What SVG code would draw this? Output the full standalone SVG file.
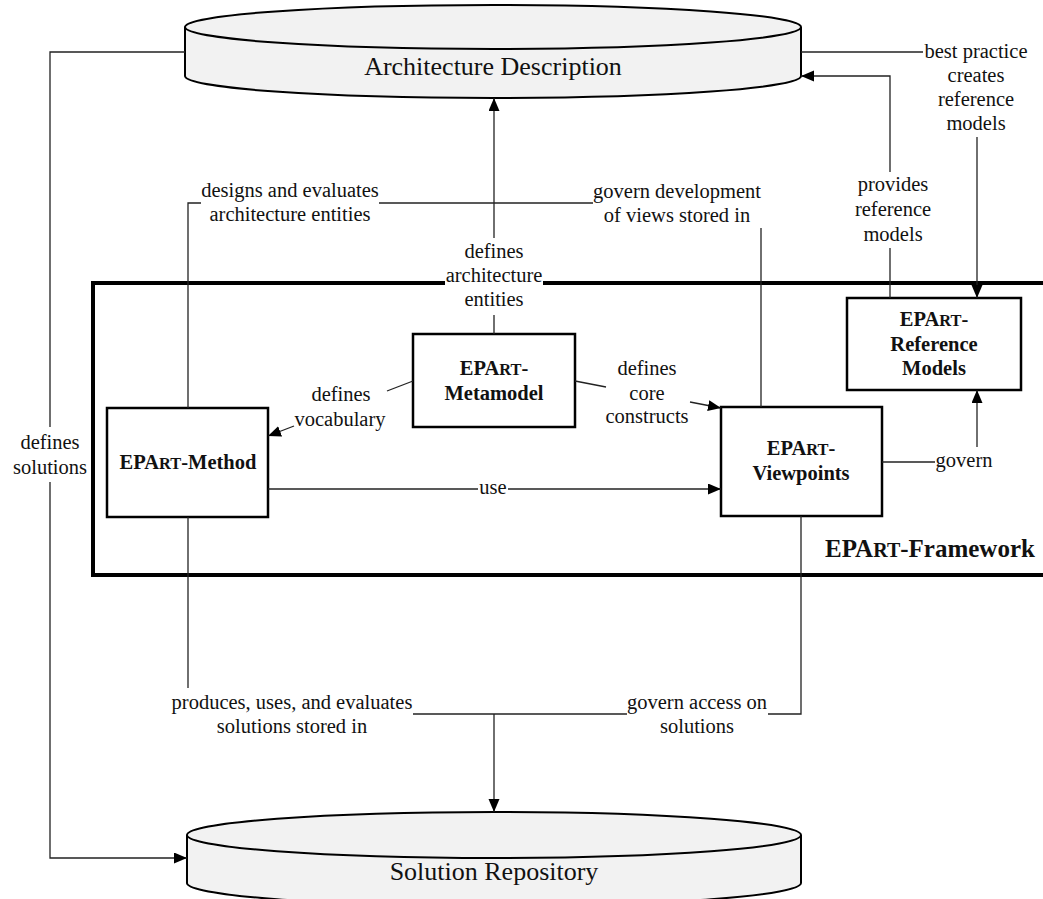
<svg xmlns="http://www.w3.org/2000/svg" width="1043" height="899" viewBox="0 0 1043 899">
  <defs>
    <marker id="arrow" markerUnits="userSpaceOnUse" markerWidth="14" markerHeight="12" refX="13" refY="5.5" orient="auto">
      <path d="M0,0 L13,5.5 L0,11 z" fill="#000"/>
    </marker>
    <style>
      .cyl { fill: #f2f2f2; stroke: #000; stroke-width: 2; }
      .cyl-rim { fill: none; stroke: #000; stroke-width: 2; }
      .box { fill: #fff; stroke: #000; stroke-width: 2.5; }
      .frame { fill: none; stroke: #000; stroke-width: 4; }
      .conn { fill: none; stroke: #222; stroke-width: 1.3; }
      .arr { marker-end: url(#arrow); }
      .store { font-family: "Liberation Serif", "Times New Roman", serif; font-size: 26px; fill: #111; text-anchor: middle; }
      .lbl { font-family: "Liberation Serif", "Times New Roman", serif; font-size: 20.5px; fill: #111; text-anchor: middle; }
      .node { font-family: "Liberation Serif", "Times New Roman", serif; font-size: 20.5px; font-weight: bold; fill: #111; text-anchor: middle; }
      .sc { font-size: 16.4px; }
      .fw { font-family: "Liberation Serif", "Times New Roman", serif; font-size: 25px; font-weight: bold; fill: #111; }
      .fw .sc { font-size: 20px; }
    </style>
  </defs>

  <!-- framework boundary (top edge left open around the label) -->
  <g id="framework">
    <path class="frame" d="M445,283 H93 V575 H1046 M543,283 H1046"/>
    <text class="fw" x="825" y="557">EPA<tspan class="sc">RT</tspan>-Framework</text>
  </g>

  <!-- stores -->
  <g id="architecture-description">
    <path class="cyl" d="M185,27 A308,22 0 0,1 801,27 V76 A308,22 0 0,1 185,76 Z"/>
    <path class="cyl-rim" d="M185,27 A308,22 0 0,0 801,27"/>
    <text class="store" x="493" y="75">Architecture Description</text>
  </g>

  <g id="solution-repository">
    <path class="cyl" d="M187,835 A307,23 0 0,1 801,835 V883 A307,23 0 0,1 187,883 Z"/>
    <path class="cyl-rim" d="M187,835 A307,23 0 0,0 801,835"/>
    <text class="store" x="494" y="880">Solution Repository</text>
  </g>

  <!-- framework parts -->
  <g id="epart-method">
    <rect class="box" x="107" y="408" width="161" height="109"/>
    <text class="node" x="188" y="469">EPA<tspan class="sc">RT</tspan>-Method</text>
  </g>

  <g id="epart-metamodel">
    <rect class="box" x="413" y="334" width="162" height="93"/>
    <text class="node" x="494" y="375">EPA<tspan class="sc">RT</tspan>-</text>
    <text class="node" x="494" y="400">Metamodel</text>
  </g>

  <g id="epart-viewpoints">
    <rect class="box" x="721" y="407" width="161" height="109"/>
    <text class="node" x="801" y="455">EPA<tspan class="sc">RT</tspan>-</text>
    <text class="node" x="801" y="480">Viewpoints</text>
  </g>

  <g id="epart-reference-models">
    <rect class="box" x="847" y="298" width="174" height="92"/>
    <text class="node" x="934" y="326">EPA<tspan class="sc">RT</tspan>-</text>
    <text class="node" x="934" y="351">Reference</text>
    <text class="node" x="934" y="375">Models</text>
  </g>

  <!-- connectors -->
  <g id="connectors">
    <!-- metamodel -> architecture description -->
    <path class="conn" d="M494,334 V315"/>
    <path class="conn arr" d="M494,238 V98"/>
    <!-- method / viewpoints -> architecture description -->
    <path class="conn" d="M188,408 V203 H201"/>
    <path class="conn" d="M379,203 H593"/>
    <path class="conn" d="M761,407 V228"/>
    <!-- architecture description -> reference models -->
    <path class="conn" d="M801,52 H923"/>
    <path class="conn arr" d="M977,137 V298"/>
    <!-- reference models -> architecture description -->
    <path class="conn" d="M890,298 V248"/>
    <path class="conn arr" d="M890,172 V76 H801"/>
    <!-- defines vocabulary -->
    <path class="conn" d="M413,381 L387,391"/>
    <path class="conn arr" d="M294,426 L268,436"/>
    <!-- defines core constructs -->
    <path class="conn" d="M575,381 L606,387"/>
    <path class="conn arr" d="M690,402 L721,408"/>
    <!-- use -->
    <path class="conn" d="M268,489 H478"/>
    <path class="conn arr" d="M508,489 H721"/>
    <!-- govern -->
    <path class="conn" d="M882,462 H935"/>
    <path class="conn arr" d="M977,447 V390"/>
    <!-- defines solutions -->
    <path class="conn" d="M185,52 H50 V427"/>
    <path class="conn arr" d="M50,482 V858 H187"/>
    <!-- method / viewpoints -> solution repository -->
    <path class="conn" d="M188,517 V688"/>
    <path class="conn" d="M413,714 H627"/>
    <path class="conn" d="M768,714 H801 V516"/>
    <path class="conn arr" d="M494,714 V812"/>
  </g>

  <g id="connector-labels">
    <text class="lbl" x="494" y="258">defines</text>
    <text class="lbl" x="494" y="282">architecture</text>
    <text class="lbl" x="494" y="306">entities</text>

    <text class="lbl" x="290" y="197">designs and evaluates</text>
    <text class="lbl" x="290" y="221">architecture entities</text>

    <text class="lbl" x="677" y="198">govern development</text>
    <text class="lbl" x="677" y="222">of views stored in</text>

    <text class="lbl" x="976" y="58">best practice</text>
    <text class="lbl" x="976" y="82">creates</text>
    <text class="lbl" x="976" y="106">reference</text>
    <text class="lbl" x="976" y="130">models</text>

    <text class="lbl" x="893" y="191">provides</text>
    <text class="lbl" x="893" y="216">reference</text>
    <text class="lbl" x="893" y="241">models</text>

    <text class="lbl" x="341" y="401">defines</text>
    <text class="lbl" x="340" y="426">vocabulary</text>

    <text class="lbl" x="647" y="375">defines</text>
    <text class="lbl" x="647" y="400">core</text>
    <text class="lbl" x="647" y="423">constructs</text>

    <text class="lbl" x="493" y="494">use</text>
    <text class="lbl" x="964" y="467">govern</text>

    <text class="lbl" x="50" y="449">defines</text>
    <text class="lbl" x="50" y="474">solutions</text>

    <text class="lbl" x="292" y="709">produces, uses, and evaluates</text>
    <text class="lbl" x="292" y="733">solutions stored in</text>

    <text class="lbl" x="697" y="709">govern access on</text>
    <text class="lbl" x="697" y="733">solutions</text>
  </g>
</svg>
